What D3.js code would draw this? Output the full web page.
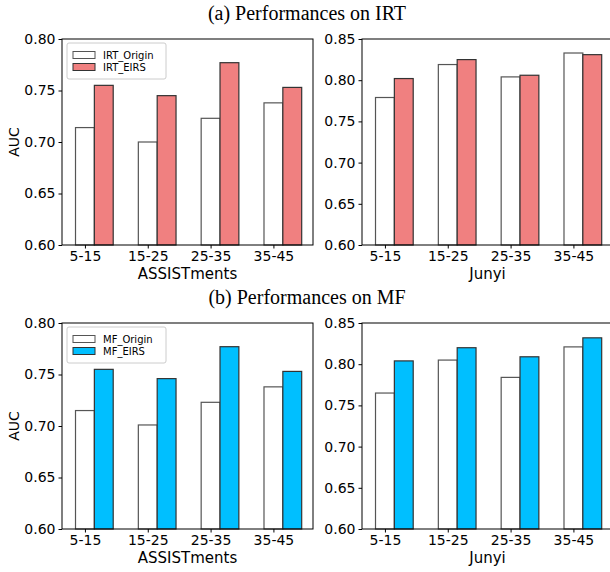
<!DOCTYPE html>
<html>
<head>
<meta charset="utf-8">
<script src="https://cdn.jsdelivr.net/npm/d3@7.9.0/dist/d3.min.js"></script>
<style>
  body { margin: 0; background: #fff; }
  svg { display: block; }
  .tick text { font-family: "DejaVu Sans", sans-serif; font-size: 14px; fill: #000; }
  .tick line, .domain { stroke: #000; }
</style>
</head>
<body>
<svg id="chart" width="610" height="572"></svg>
<script>
// --- data ---
const groups = ['5-15', '15-25', '25-35', '35-45'];

const irtAssistOrigin = [0.714, 0.700, 0.723, 0.738];
const irtAssistEirs   = [0.755, 0.745, 0.777, 0.753];
const irtJunyiOrigin  = [0.779, 0.819, 0.804, 0.833];
const irtJunyiEirs    = [0.802, 0.825, 0.806, 0.831];

const mfAssistOrigin  = [0.715, 0.701, 0.723, 0.738];
const mfAssistEirs    = [0.755, 0.746, 0.777, 0.753];
const mfJunyiOrigin   = [0.765, 0.805, 0.784, 0.821];
const mfJunyiEirs     = [0.804, 0.820, 0.809, 0.832];

const ticksAssist = [0.60, 0.65, 0.70, 0.75, 0.80];
const ticksJunyi  = [0.60, 0.65, 0.70, 0.75, 0.80, 0.85];

const svg = d3.select('#chart');
const fmt = d3.format('.2f');
const barW = 0.3;

// one small bar panel
function panel(opt) {
  const x = d3.scaleLinear().domain([-0.365, 3.63]).range([opt.left, opt.left + 251]);
  const y = d3.scaleLinear().domain([0.6, opt.ymax]).range([opt.top + 206, opt.top]);
  const g = svg.append('g');

  const rows = groups.map((k, i) => ({ i, k, a: opt.origin[i], b: opt.eirs[i] }));

  // origin bars (white)
  g.selectAll('rect.orig').data(rows).join('rect')
    .attr('class', 'orig')
    .attr('x', d => x(d.i - barW / 2))
    .attr('width', d => x(d.i + barW / 2) - x(d.i - barW / 2))
    .attr('y', d => y(d.a))
    .attr('height', d => y(0.6) - y(d.a))
    .attr('fill', '#fff').attr('stroke', '#555').attr('stroke-width', 1.2);

  // EIRS bars
  g.selectAll('rect.eirs').data(rows).join('rect')
    .attr('class', 'eirs')
    .attr('x', d => x(d.i + barW / 2))
    .attr('width', d => x(d.i + 1.5 * barW) - x(d.i + barW / 2))
    .attr('y', d => y(d.b))
    .attr('height', d => y(0.6) - y(d.b))
    .attr('fill', opt.color).attr('stroke', '#333').attr('stroke-width', 1.2);

  // axes
  g.append('g').attr('transform', `translate(0,${opt.top + 206})`)
    .call(d3.axisBottom(x).tickValues(d3.range(groups.length))
      .tickFormat(i => groups[i]).tickSize(3.5).tickPadding(3).tickSizeOuter(0))
    .call(a => a.select('.domain').remove());
  g.append('g').attr('transform', `translate(${opt.left},0)`)
    .call(d3.axisLeft(y).tickValues(opt.ticks).tickFormat(fmt)
      .tickSize(3.5).tickPadding(3).tickSizeOuter(0))
    .call(a => a.select('.domain').remove());

  // frame (all four spines)
  g.append('rect')
    .attr('x', opt.left).attr('y', opt.top)
    .attr('width', 251).attr('height', 206)
    .attr('fill', 'none').attr('stroke', '#000').attr('stroke-width', 1);

  // x label
  g.append('text')
    .attr('x', opt.left + 125.5).attr('y', opt.top + 240)
    .attr('text-anchor', 'middle')
    .style('font-family', 'DejaVu Sans, sans-serif').style('font-size', '15px')
    .text(opt.xlabel);

  if (opt.ylabel) {
    g.append('text')
      .attr('transform', `translate(19,${opt.top + 103}) rotate(-90)`)
      .attr('text-anchor', 'middle')
      .style('font-family', 'DejaVu Sans, sans-serif').style('font-size', '14px')
      .text(opt.ylabel);
  }

  if (opt.legend) {
    const lg = g.append('g').attr('transform', `translate(${opt.left + 5},${opt.top + 4})`);
    lg.append('rect').attr('width', 99).attr('height', 36).attr('rx', 2)
      .attr('fill', '#fff').attr('fill-opacity', 0.8).attr('stroke', '#ccc');
    opt.legend.forEach((name, j) => {
      lg.append('rect')
        .attr('x', 6).attr('y', 8.5 + j * 12).attr('width', 22).attr('height', 7)
        .attr('fill', j === 0 ? '#fff' : opt.color)
        .attr('stroke', j === 0 ? '#555' : '#333').attr('stroke-width', 1);
      lg.append('text')
        .attr('x', 36).attr('y', 15.8 + j * 12)
        .style('font-family', 'DejaVu Sans, sans-serif').style('font-size', '10px')
        .text(name);
    });
  }
}

function title(text, yy) {
  svg.append('text')
    .attr('x', 307).attr('y', yy)
    .attr('text-anchor', 'middle')
    .style('font-family', '"Liberation Serif", "Times New Roman", serif')
    .style('font-size', '20px')
    .text(text);
}

title('(a) Performances on IRT', 19.5);
title('(b) Performances on MF', 304);

const red = '#F08080';
const blue = '#00BFFF';

panel({ left: 62, top: 39, ymax: 0.8, ticks: ticksAssist, origin: irtAssistOrigin, eirs: irtAssistEirs,
        color: red, xlabel: 'ASSISTments', ylabel: 'AUC', legend: ['IRT_Origin', 'IRT_EIRS'] });
panel({ left: 362, top: 39, ymax: 0.85, ticks: ticksJunyi, origin: irtJunyiOrigin, eirs: irtJunyiEirs,
        color: red, xlabel: 'Junyi' });
panel({ left: 62, top: 323, ymax: 0.8, ticks: ticksAssist, origin: mfAssistOrigin, eirs: mfAssistEirs,
        color: blue, xlabel: 'ASSISTments', ylabel: 'AUC', legend: ['MF_Origin', 'MF_EIRS'] });
panel({ left: 362, top: 323, ymax: 0.85, ticks: ticksJunyi, origin: mfJunyiOrigin, eirs: mfJunyiEirs,
        color: blue, xlabel: 'Junyi' });
</script>
</body>
</html>
